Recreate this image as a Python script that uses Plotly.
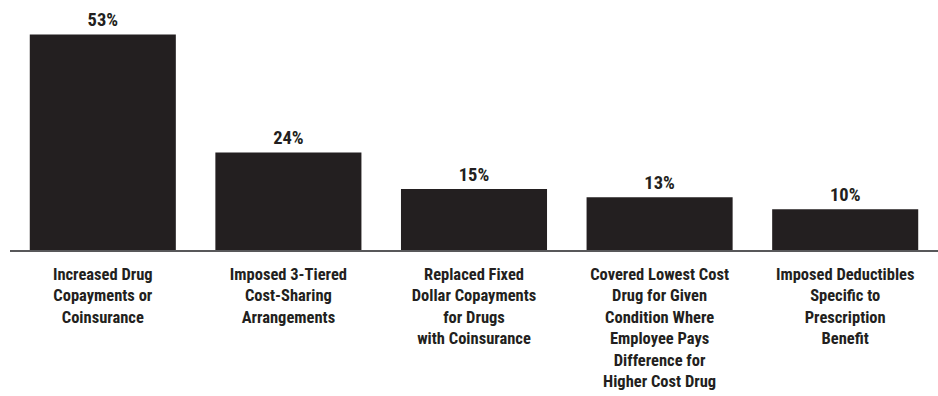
import plotly.graph_objects as go

categories = [
    "Increased Drug<br>Copayments or<br>Coinsurance",
    "Imposed 3-Tiered<br>Cost-Sharing<br>Arrangements",
    "Replaced Fixed<br>Dollar Copayments<br>for Drugs<br>with Coinsurance",
    "Covered Lowest Cost<br>Drug for Given<br>Condition Where<br>Employee Pays<br>Difference for<br>Higher Cost Drug",
    "Imposed Deductibles<br>Specific to<br>Prescription<br>Benefit",
]
values = [53, 24, 15, 13, 10]
value_labels = [f"{v}%" for v in values]

FONT = "Roboto Condensed, Open Sans Condensed, Liberation Sans Narrow, Roboto, sans-serif"
INK = "#231f20"

fig = go.Figure(
    go.Bar(
        x=categories,
        y=values,
        text=value_labels,
        textposition="outside",
        cliponaxis=False,
        marker=dict(color=INK, line=dict(width=0)),
        textfont=dict(family=FONT, size=18.5, color=INK, weight="bold"),
    )
)

fig.update_layout(
    width=938,
    height=396,
    margin=dict(l=10, r=0, t=6, b=146),
    paper_bgcolor="white",
    plot_bgcolor="white",
    bargap=0.213,
    showlegend=False,
    font=dict(family=FONT, size=16.5, color=INK, weight="bold"),
)
fig.update_xaxes(
    showline=True,
    linecolor="#58585a",
    linewidth=2,
    showgrid=False,
    ticks="",
    ticklabelstandoff=8,
    tickfont=dict(family=FONT, size=16.5, color=INK, weight="bold"),
)
fig.update_yaxes(
    range=[0, 60],
    visible=False,
    showgrid=False,
)

fig.write_html("out.html")
